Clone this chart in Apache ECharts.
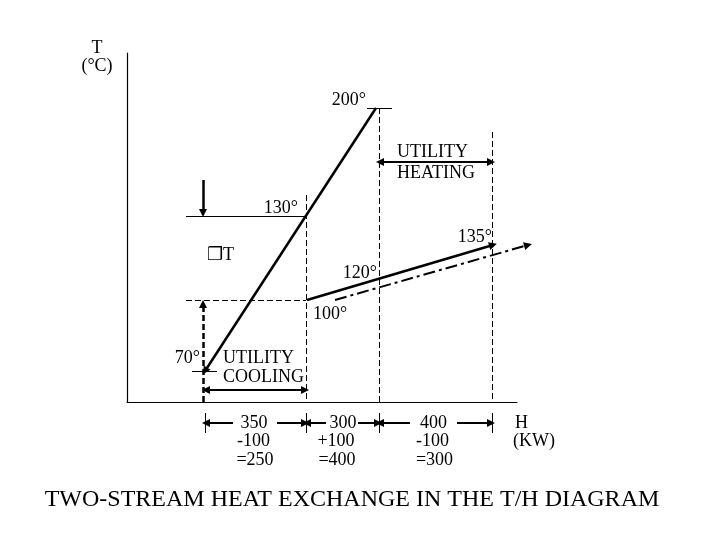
<!DOCTYPE html>
<html><head><meta charset="utf-8">
<script src="https://cdn.jsdelivr.net/npm/echarts@6/dist/echarts.min.js"></script>
<style>html,body{margin:0;padding:0;background:#fff}#c{width:720px;height:540px}</style>
</head><body><div id="c"></div>
<script>
// ---- DATA (schematic diagram units; the T/H diagram is not drawn to scale) ----
// x = enthalpy position, y = temperature position
const hotStream   = [[249, 294], [78, 31]];    // 200° -> 70°
const coldStream  = [[180, 102], [366, 157]];  // 100° -> 135°
const shiftedCold = [[208, 102], [401, 157]];  // shifted cold stream (dash-dot)
const hBoundaries = [78, 179, 252, 365];       // H interval boundaries
const hotTemps    = ['200°', '130°', '70°'];
const coldTemps   = ['100°', '120°', '135°'];
const intervalTop = ['350', '300', '400'];
const intervalMid = ['-100', '+100', '-100'];
const intervalBot = ['=250', '=400', '=300'];
const utilityHeating = ['UTILITY', 'HEATING'];
const utilityCooling = ['UTILITY', 'COOLING'];
const axisTitleY = ['T', '(°C)'];
const axisTitleX = ['H', '(KW)'];
const titleText = 'TWO-STREAM HEAT EXCHANGE IN THE T/H DIAGRAM';

// ---- helpers ----
const FONT = 'Liberation Serif, Times New Roman, serif';
const thin = {color: '#000', width: 1, type: 'solid', opacity: 1};
const dashed = {color: '#000', width: 1, type: [6, 3], opacity: 1};
const bold = {color: '#000', width: 2.5, type: 'solid', opacity: 1};
const mid = {color: '#000', width: 2, type: 'solid', opacity: 1};
function seg(a, b, ls) { return {coords: [a, b], lineStyle: ls}; }
function txt(text, x, y, align, size) {
  return {value: [x, y], label: {formatter: text, align: align || 'center', fontSize: size || 18}};
}

const [b0, b1, b2, b3] = hBoundaries;
const hot200 = hotStream[0], hot70 = hotStream[1];
const tY200 = hot200[1], tY130 = 186, tY70 = hot70[1];
const tY100 = coldStream[0][1];
const brY = -21;

// plain segments
const plainSegs = [
  seg([hot200[0] - 9, tY200], [hot200[0] + 16, tY200], thin),      // 200° tick
  seg([b2, tY200], [b2, 0], dashed),                                 // dashed at 200° end
  seg([b3, 270], [b3, 0], dashed),                                   // dashed at 135° end
  seg([59, tY130], [b1, tY130], thin),                               // 130° level
  seg([b1, 207], [b1, 0], dashed),                                   // dashed at 130°
  seg([59, tY100], [b1, tY100], dashed),                             // 100° level
  seg([65, tY70], [90, tY70], thin),                                 // 70° tick
  seg([b0, -11], [b0, -31], thin),
  seg([b1, -11], [b1, -31], thin),
  seg([b2, -11], [b2, -31], thin),
  seg([b3, -11], [b3, -31], thin)
];
// segments with arrow at end
const endArrowSegs = [
  seg(hotStream[0], hotStream[1], bold),
  seg(coldStream[0], coldStream[1], bold),
  seg(shiftedCold[0], shiftedCold[1], {color: '#000', width: 2, type: [12, 4, 3, 4], opacity: 1}),
  seg([76, 222], [76, 189], bold),                                   // ΔT arrow down
  seg([76, 0], [76, 98], {color: '#000', width: 2.5, type: [6, 3], opacity: 1}), // ΔT arrow up
  seg([106, brY], [b0 + 1, brY], mid),
  seg([150, brY], [b1 - 1, brY], mid),
  seg([199, brY], [b1 + 1, brY], mid),
  seg([231, brY], [b2 - 1, brY], mid),
  seg([283, brY], [b2 + 1, brY], mid),
  seg([330, brY], [b3 - 1, brY], mid)
];
// double-headed arrows
const bothArrowSegs = [
  seg([b2 + 1, 240], [b3 - 1, 240], mid),     // utility heating
  seg([b0 + 1, 12], [b1 - 1, 12], mid)        // utility cooling
];

const labels = [
  txt(axisTitleY[0], -30, 354), txt(axisTitleY[1], -30, 336),
  txt(hotTemps[0], 239, 302, 'right'),
  txt(hotTemps[1], 171, 194, 'right'),
  txt(hotTemps[2], 73, 44, 'right'),
  txt(coldTemps[0], 186, 88, 'left'),
  txt(coldTemps[1], 250, 129, 'right'),
  txt(coldTemps[2], 365, 165, 'right'),
  txt(utilityHeating[0], 270, 250, 'left'), txt(utilityHeating[1], 270, 229, 'left'),
  txt(utilityCooling[0], 96, 44, 'left'), txt(utilityCooling[1], 96, 25, 'left'),
  txt('❒T', 80, 147, 'left'),
  txt(intervalTop[0], 127, -21.5), txt(intervalMid[0], 126.5, -39.5), txt(intervalBot[0], 128, -58),
  txt(intervalTop[1], 216, -21.5), txt(intervalMid[1], 209, -39.5), txt(intervalBot[1], 210, -58),
  txt(intervalTop[2], 306.5, -21.5), txt(intervalMid[2], 305.5, -39.5), txt(intervalBot[2], 307.5, -58),
  txt(axisTitleX[0], 388, -21, 'left'), txt(axisTitleX[1], 386, -39, 'left'),
  txt(titleText, 225, -98, 'center', 24)
];

const axisCommon = {
  type: 'value',
  axisLine: {show: true, onZero: false, lineStyle: {color: '#000', width: 1.2}},
  axisTick: {show: false}, axisLabel: {show: false}, splitLine: {show: false}
};

const chart = echarts.init(document.getElementById('c'), null, {renderer: 'canvas'});
chart.setOption({
  backgroundColor: '#fff',
  animation: false,
  grid: {left: 127, top: 53, width: 390, height: 349},
  xAxis: Object.assign({min: 0, max: 390}, axisCommon),
  yAxis: Object.assign({min: 0, max: 349}, axisCommon),
  series: [
    {type: 'lines', coordinateSystem: 'cartesian2d', clip: false, silent: true,
     lineStyle: {opacity: 1, color: '#000'},
     symbol: ['none', 'none'], data: plainSegs},
    {type: 'lines', coordinateSystem: 'cartesian2d', clip: false, silent: true,
     lineStyle: {opacity: 1, color: '#000'}, itemStyle: {opacity: 1, color: '#000'},
     symbol: ['none', 'triangle'], symbolSize: 8, data: endArrowSegs},
    {type: 'lines', coordinateSystem: 'cartesian2d', clip: false, silent: true,
     lineStyle: {opacity: 1, color: '#000'}, itemStyle: {opacity: 1, color: '#000'},
     symbol: ['triangle', 'triangle'], symbolSize: 8, data: bothArrowSegs},
    {type: 'scatter', symbolSize: 0, clip: false, silent: true,
     itemStyle: {opacity: 1, color: '#000'},
     label: {show: true, position: 'inside', verticalAlign: 'middle', color: '#000', opacity: 1,
             fontFamily: FONT, fontSize: 18},
     data: labels}
  ]
});
</script></body></html>
